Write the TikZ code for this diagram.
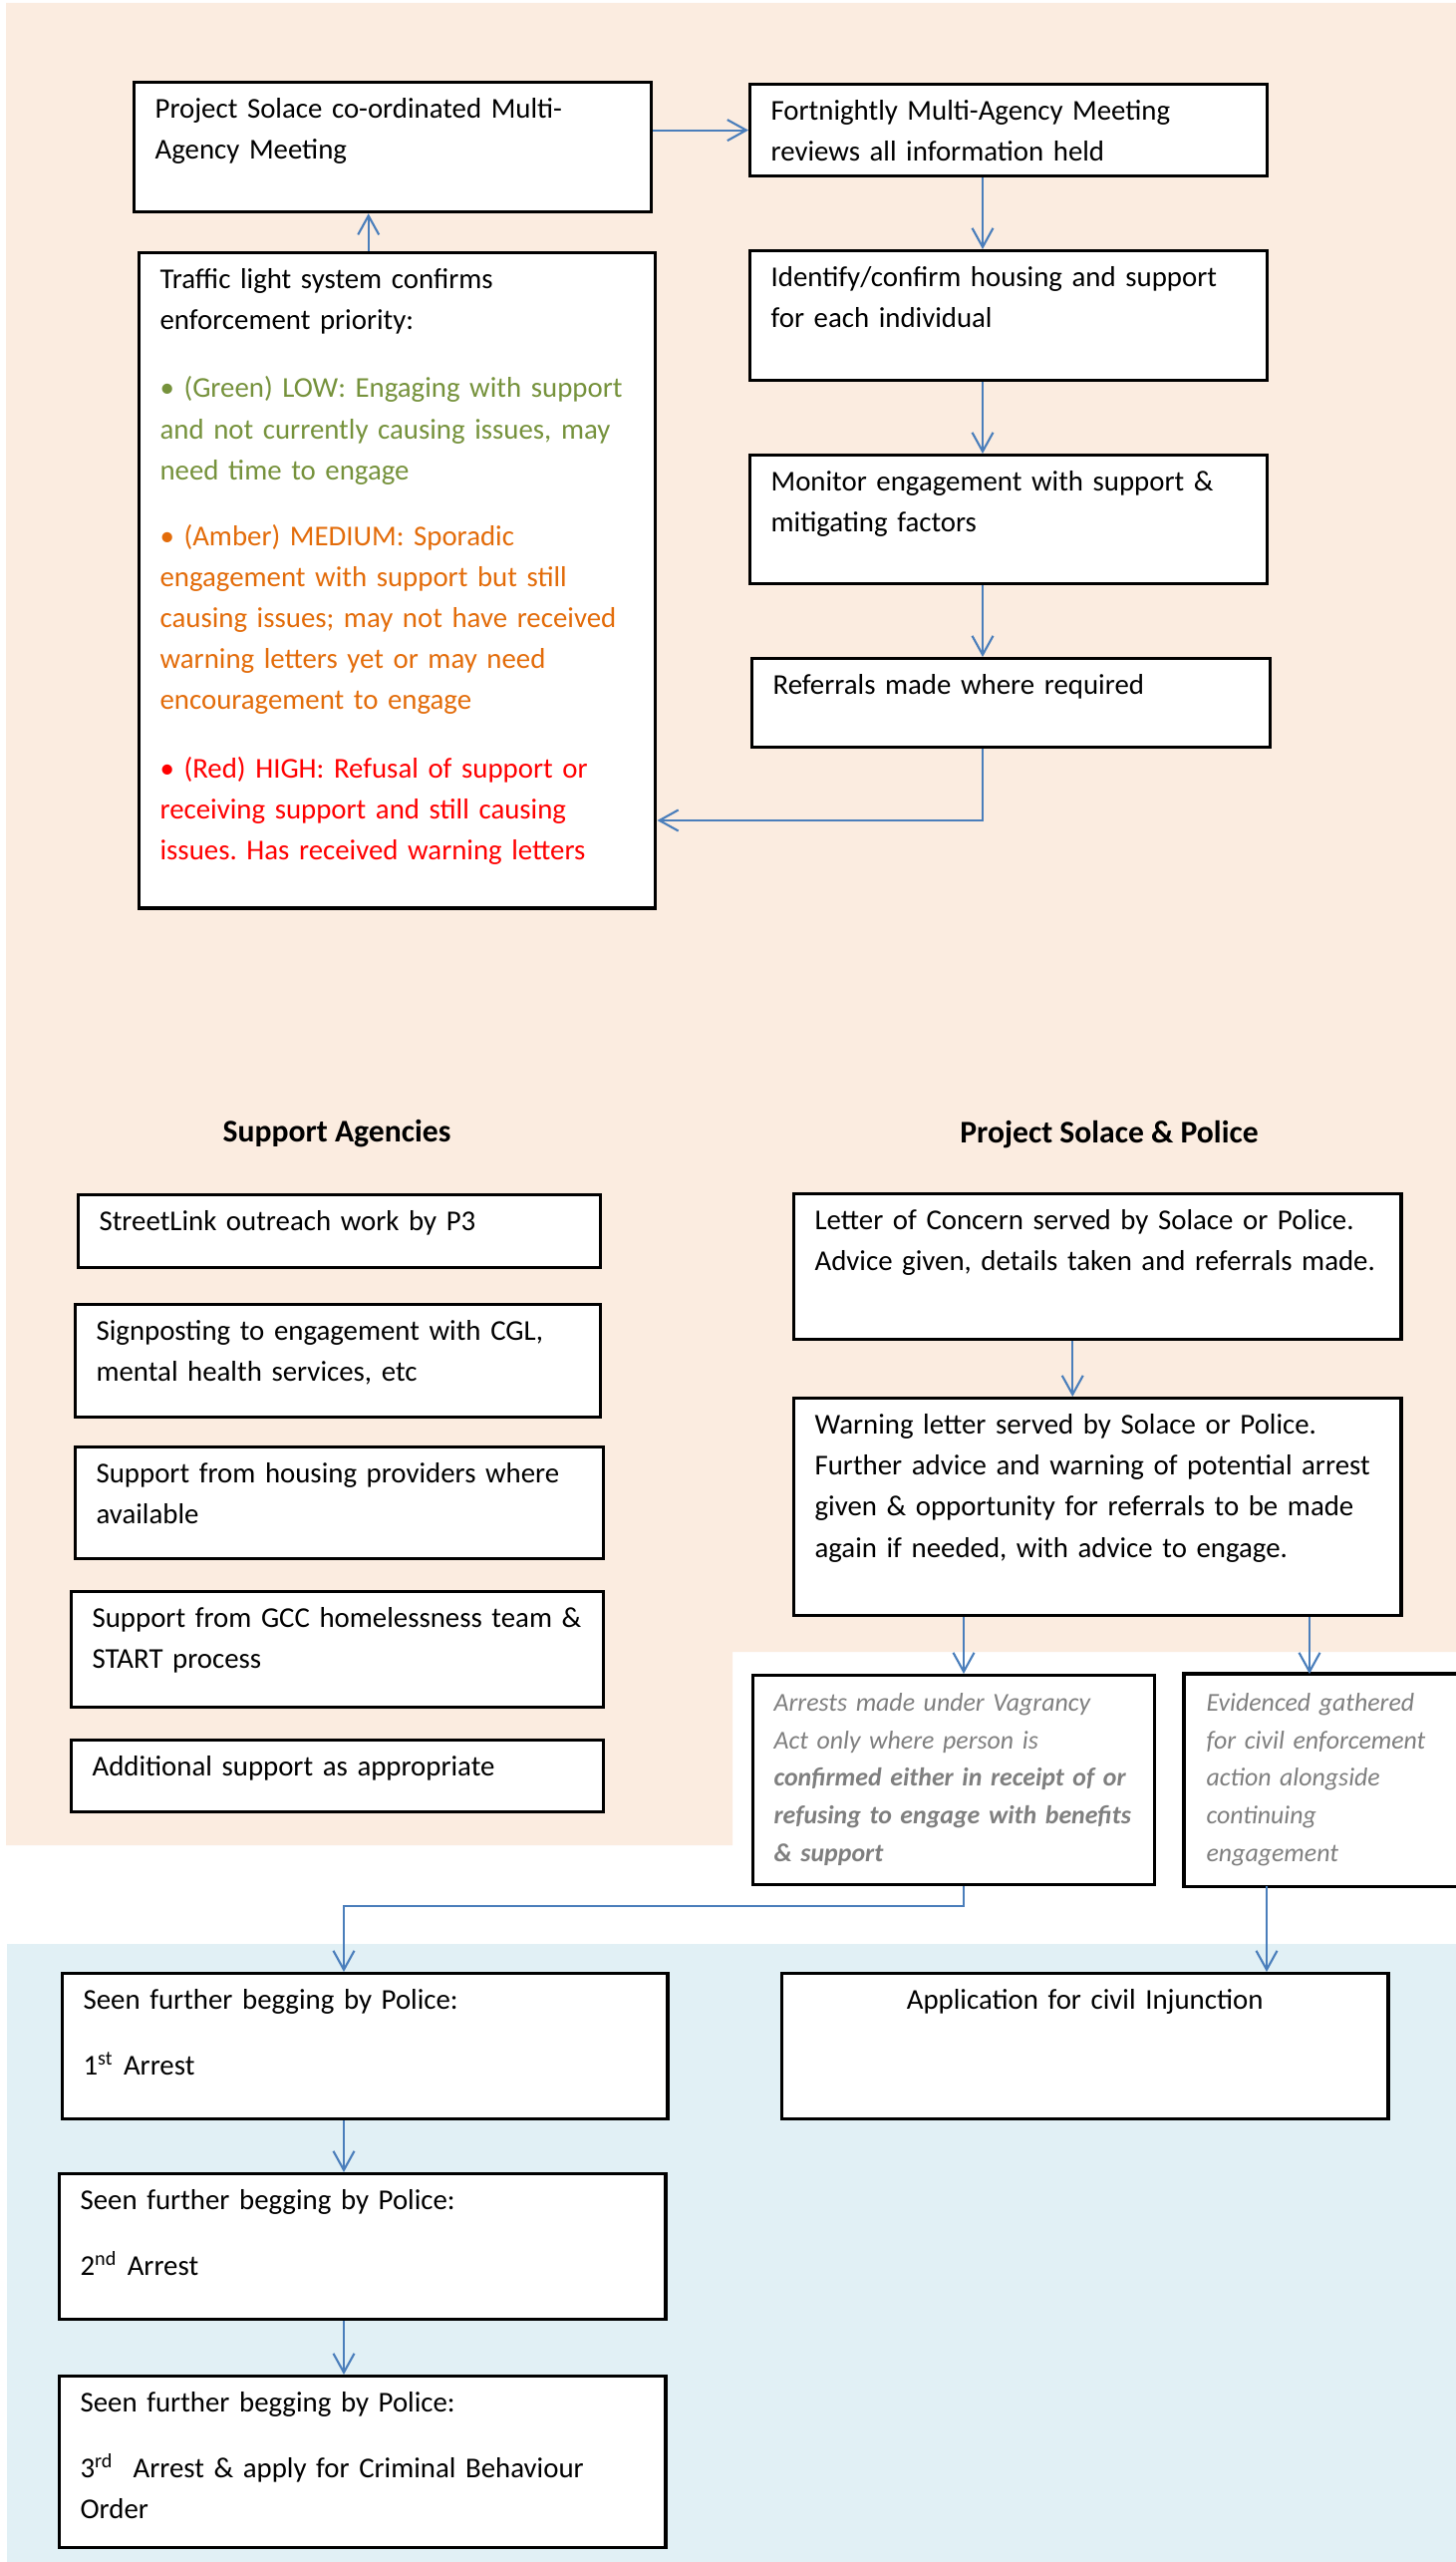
\documentclass[tikz,border=0pt]{standalone}
\usepackage{fontspec}
\setmainfont{Carlito}
\usetikzlibrary{arrows.meta}
\definecolor{sheetbeige}{HTML}{FBECE0}
\definecolor{sheetblue}{HTML}{E1F0F5}
\definecolor{flowblue}{HTML}{4A7EBB}
\definecolor{lowgreen}{HTML}{76923C}
\definecolor{medamber}{HTML}{E36C0A}
\definecolor{highred}{HTML}{FF0000}
\definecolor{notegray}{HTML}{7F7F7F}
\frenchspacing
\tikzset{
  box/.style={draw=black, line width=0.9pt, fill=white, anchor=north west, align=left,
    inner xsep=0.21cm, inner ysep=0pt, text height=0.36cm,
    font=\fontsize{8.2}{11.7}\selectfont},
  note/.style={box, text=notegray, font=\fontsize{7.35}{10.7}\selectfont\itshape,
    execute at begin node={\hyphenpenalty=10000 }},
  head/.style={font=\fontsize{9}{11}\selectfont\bfseries},
  arr/.style={draw=flowblue, line width=0.6pt, -{Straight Barb[length=0.19cm,width=0.21cm]}}
}
\begin{document}
\begin{tikzpicture}[x=0.01cm, y=-0.01cm]
	\useasboundingbox[fill=white] (0,0) rectangle (1461,2570);
	\clip (0,0) rectangle (1461,2570);
	% shaded areas
	\fill[sheetbeige] (6,3) -- (1461,3) -- (1461,1657) -- (735,1657) -- (735,1851) -- (6,1851) -- cycle;
	\fill[sheetblue] (7,1950) rectangle (1461,2570);

	% review loop
	\node[box, text width=4.77cm, text depth=0.94cm] (meet) at (133,81) {Project Solace co-ordinated Multi-\\Agency Meeting};
	\node[box, text width=4.77cm, text depth=0.56cm] (fort) at (751,83) {Fortnightly Multi-Agency Meeting\\reviews all information held};
	\node[box, text width=4.77cm, text depth=0.94cm] (ident) at (751,250) {Identify/confirm housing and support\\for each individual};
	\node[box, text width=4.77cm, text depth=0.93cm] (monit) at (751,455) {Monitor engagement with support \&\\mitigating factors};
	\node[box, text width=4.78cm, text depth=0.53cm] (refer) at (753,659) {Referrals made where required};
	\node[box, text width=4.76cm, text depth=6.21cm] (traffic) at (138,252) {Traffic light system confirms\\enforcement priority:\\[0.27cm]
		\color{lowgreen}\textbullet{} (Green) LOW: Engaging with support\\and not currently causing issues, may\\need time to engage\\[0.25cm]
		\color{medamber}\textbullet{} (Amber) MEDIUM: Sporadic\\engagement with support but still\\causing issues; may not have received\\warning letters yet or may need\\encouragement to engage\\[0.27cm]
		\color{highred}\textbullet{} (Red) HIGH: Refusal of support or\\receiving support and still causing\\issues. Has received warning letters};

	\coordinate (spine) at (986,0);
	\coordinate (loopback) at (986,823);
	\draw[arr] (meet.east |- fort.west) -- (fort.west);
	\draw[arr] (fort.south -| spine) -- (ident.north -| spine);
	\draw[arr] (ident.south -| spine) -- (monit.north -| spine);
	\draw[arr] (monit.south -| spine) -- (refer.north -| spine);
	\draw[arr] (refer.south -| spine) -- (loopback) -- (loopback -| traffic.east);
	\draw[arr] ([xshift=-0.29cm]traffic.north) -- ([xshift=-0.29cm]traffic.north |- meet.south);

	% support agencies
	\node[head] (supphead) at (338,1137) {Support Agencies};
	\node[box, text width=4.82cm, text depth=0.37cm] (street) at (77,1197) {StreetLink outreach work by P3};
	\node[box, text width=4.85cm, text depth=0.77cm] (signp) at (74,1307) {Signposting to engagement with CGL,\\mental health services, etc};
	\node[box, text width=4.88cm, text depth=0.76cm] (housing) at (74,1450) {Support from housing providers where\\available};
	\node[box, text width=4.92cm, text depth=0.80cm] (gcc) at (70,1595) {Support from GCC homelessness team \&\\START process};
	\node[box, text width=4.92cm, text depth=0.36cm] (addit) at (70,1744) {Additional support as appropriate};

	% solace and police
	\node[head] (polhead) at (1113,1138) {Project Solace \& Police};
	\node[box, text width=5.67cm, text depth=1.10cm] (concern) at (795,1196) {Letter of Concern served by Solace or Police.\\Advice given, details taken and referrals made.};
	\node[box, text width=5.67cm, text depth=1.82cm] (warn) at (795,1401) {Warning letter served by Solace or Police.\\Further advice and warning of potential arrest\\given \& opportunity for referrals to be made\\again if needed, with advice to engage.};
	\node[note, text width=3.61cm, text depth=1.74cm] (arrests) at (754,1679) {Arrests made under Vagrancy\\Act only where person is\\{\bfseries confirmed either in receipt of or\\refusing to engage with benefits\\\& support}};
	% runs off the right edge of the page
	\node[note, draw=none, text width=4.50cm, text depth=1.74cm] (evid) at (1188,1679) {Evidenced gathered\\for civil enforcement\\action alongside\\continuing\\engagement};
	\draw[line width=0.9pt] (evid.north east) -- (evid.north west) -- (evid.south west) -- (evid.south east);

	\coordinate (crim) at (967,1912);
	\coordinate (civil) at (1314,0);
	\coordinate (injx) at (1271,0);
	\coordinate (arrline) at (345,1912);
	\draw[arr] ([xshift=-0.25cm]concern.south) -- ([xshift=-0.25cm]warn.north);
	\draw[arr] (warn.south -| crim) -- (arrests.north -| crim);
	\draw[arr] (warn.south -| civil) -- (evid.north -| civil);

	% outcomes
	\node[box, text width=5.65cm, text depth=1.10cm] (seen1) at (61,1978) {Seen further begging by Police:\\[0.25cm]1\textsuperscript{st} Arrest};
	\node[box, text width=5.66cm, text depth=1.10cm] (seen2) at (58,2179) {Seen further begging by Police:\\[0.25cm]2\textsuperscript{nd} Arrest};
	\node[box, text width=5.66cm, text depth=1.36cm] (seen3) at (58,2382) {Seen further begging by Police:\\[0.25cm]3\textsuperscript{rd}~ Arrest \& apply for Criminal Behaviour\\Order};
	\node[box, align=center, text width=5.66cm, text depth=1.10cm] (inj) at (783,1978) {Application for civil Injunction};

	\draw[arr] (arrests.south -| crim) -- (crim) -- (arrline) -- (seen1.north -| arrline);
	\draw[arr] (seen1.south -| arrline) -- (seen2.north -| arrline);
	\draw[arr] (seen2.south -| arrline) -- (seen3.north -| arrline);
	\draw[arr] (evid.south -| injx) -- (inj.north -| injx);
\end{tikzpicture}
\end{document}
